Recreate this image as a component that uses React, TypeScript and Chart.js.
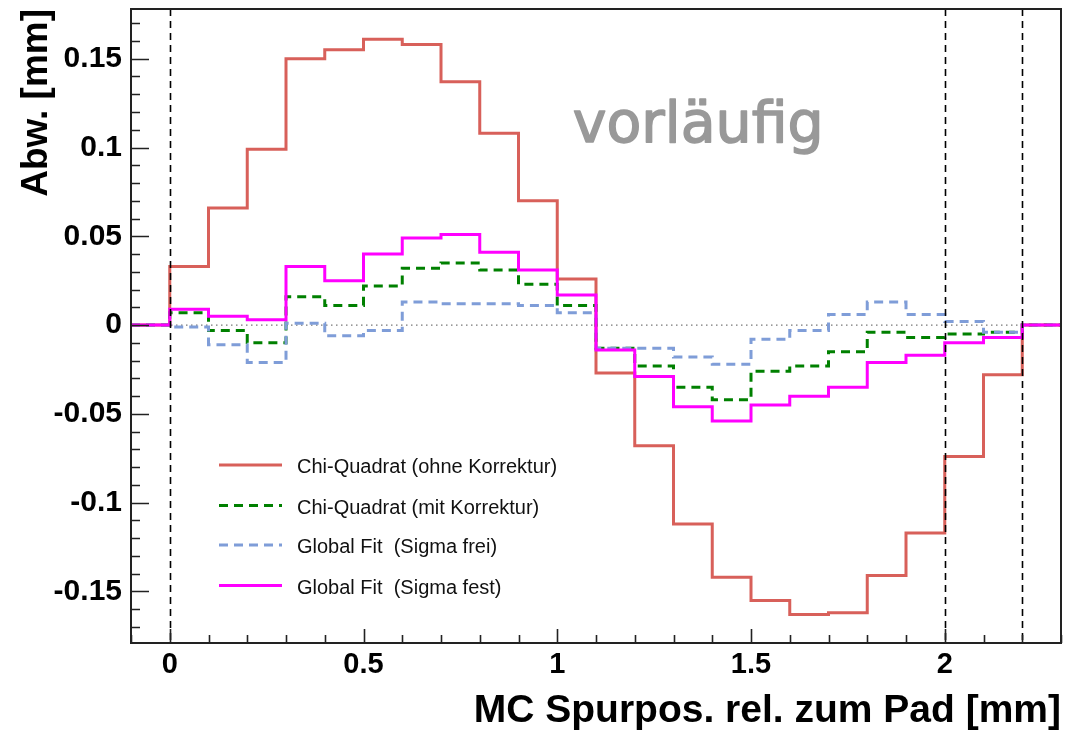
import React, { useEffect, useRef } from 'react';
import { Chart, registerables } from 'chart.js';

Chart.register(...registerables);

// ---- data ----
const binLow = [0, 0.1, 0.2, 0.3, 0.4, 0.5, 0.6, 0.7, 0.8, 0.9, 1.0, 1.1, 1.2, 1.3, 1.4, 1.5, 1.6, 1.7, 1.8, 1.9, 2.0, 2.1];
const binWidth = 0.1;
const chiOhne = [0.033, 0.066, 0.099, 0.150, 0.155, 0.161, 0.158, 0.137, 0.108, 0.070, 0.026, -0.027, -0.068, -0.112, -0.142, -0.155, -0.163, -0.162, -0.141, -0.117, -0.074, -0.028];
const chiMit = [0.007, -0.003, -0.010, 0.016, 0.011, 0.022, 0.032, 0.035, 0.031, 0.023, 0.011, -0.013, -0.023, -0.035, -0.042, -0.026, -0.023, -0.015, -0.004, -0.007, -0.005, -0.004];
const globalFrei = [-0.001, -0.011, -0.021, 0.001, -0.006, -0.003, 0.013, 0.012, 0.012, 0.011, 0.007, -0.013, -0.013, -0.018, -0.022, -0.008, -0.003, 0.006, 0.013, 0.006, 0.002, -0.004];
const globalFest = [0.009, 0.005, 0.003, 0.033, 0.025, 0.040, 0.049, 0.051, 0.041, 0.031, 0.017, -0.014, -0.029, -0.046, -0.054, -0.045, -0.040, -0.035, -0.021, -0.017, -0.010, -0.007];
const seriesLabels = [
  'Chi-Quadrat (ohne Korrektur)',
  'Chi-Quadrat (mit Korrektur)',
  'Global Fit  (Sigma frei)',
  'Global Fit  (Sigma fest)',
];
const markerLines = [0, 2, 2.2];
const xRange = [-0.1, 2.3];
const yRange = [-0.179, 0.178];
const xTickValues = [0, 0.5, 1, 1.5, 2];
const xTickLabels = ['0', '0.5', '1', '1.5', '2'];
const yTickValues = [-0.15, -0.1, -0.05, 0, 0.05, 0.1, 0.15];
const yTickLabels = ['-0.15', '-0.1', '-0.05', '0', '0.05', '0.1', '0.15'];
const xTitle = 'MC Spurpos. rel. zum Pad [mm]';
const yTitle = 'Abw. [mm]';
const watermark = 'vorläufig';

const FONT = "'Liberation Sans', Arial, Helvetica, sans-serif";

function histPoints(vals: number[]) {
  const pts = [{ x: xRange[0], y: 0 }];
  vals.forEach((v, i) => pts.push({ x: binLow[i], y: v }));
  pts.push({ x: binLow[binLow.length - 1] + binWidth, y: 0 });
  pts.push({ x: xRange[1], y: 0 });
  return pts;
}

const decorPlugin = {
  id: 'rootDecor',
  beforeDatasetsDraw(chart: any) {
    const { ctx, chartArea: a, scales } = chart;
    const y0 = scales.y.getPixelForValue(0);
    ctx.save();
    ctx.strokeStyle = '#777';
    ctx.lineWidth = 1.2;
    ctx.setLineDash([1.5, 3.5]);
    ctx.beginPath();
    ctx.moveTo(a.left, y0);
    ctx.lineTo(a.right, y0);
    ctx.stroke();
    ctx.restore();
  },
  afterDatasetsDraw(chart: any) {
    const { ctx, chartArea: a, scales } = chart;
    const xs = scales.x, ys = scales.y;
    ctx.save();
    // vertical dashed markers
    ctx.strokeStyle = '#000';
    ctx.lineWidth = 1.6;
    ctx.setLineDash([7, 5]);
    markerLines.forEach((m) => {
      const px = Math.round(xs.getPixelForValue(m)) + 0.5;
      ctx.beginPath();
      ctx.moveTo(px, a.top);
      ctx.lineTo(px, a.bottom);
      ctx.stroke();
    });
    ctx.setLineDash([]);

    // frame
    ctx.strokeStyle = '#222';
    ctx.lineWidth = 2;
    ctx.strokeRect(a.left, a.top, a.right - a.left, a.bottom - a.top);

    // ticks (inward)
    ctx.lineWidth = 1.6;
    ctx.beginPath();
    const yMinor = 0.01;
    for (let k = Math.ceil(ys.min / yMinor - 1e-6); k <= Math.floor(ys.max / yMinor + 1e-6); k++) {
      const v = k * yMinor;
      const major = Math.abs(v / 0.05 - Math.round(v / 0.05)) < 1e-6;
      const py = Math.round(ys.getPixelForValue(v)) + 0.5;
      ctx.moveTo(a.left, py);
      ctx.lineTo(a.left + (major ? 18 : 9), py);
    }
    const xMinor = 0.1;
    for (let k = Math.ceil(xs.min / xMinor - 1e-6); k <= Math.floor(xs.max / xMinor + 1e-6); k++) {
      const v = k * xMinor;
      const major = Math.abs(v / 0.5 - Math.round(v / 0.5)) < 1e-6;
      const px = Math.round(xs.getPixelForValue(v)) + 0.5;
      ctx.moveTo(px, a.bottom);
      ctx.lineTo(px, a.bottom - (major ? 14 : 8));
    }
    ctx.stroke();

    // legend
    const lx0 = a.left + 88, lx1 = a.left + 151, tx = a.left + 166;
    const rowY = [a.top + 456, a.top + 496.5, a.top + 536, a.top + 576.5];
    ctx.font = `20px ${FONT}`;
    ctx.textBaseline = 'alphabetic';
    ctx.textAlign = 'left';
    chart.data.datasets.forEach((ds: any, i: number) => {
      const yy = rowY[i];
      ctx.strokeStyle = ds.borderColor;
      ctx.lineWidth = ds.borderWidth;
      ctx.setLineDash(ds.borderDash || []);
      ctx.beginPath();
      ctx.moveTo(lx0, yy);
      ctx.lineTo(lx1, yy);
      ctx.stroke();
      ctx.setLineDash([]);
      ctx.fillStyle = '#111';
      ctx.fillText(ds.label, tx, yy + 8);
    });

    // watermark
    ctx.font = `57px 'DejaVu Sans', sans-serif`;
    ctx.fillStyle = '#999';
    ctx.strokeStyle = '#999';
    ctx.lineWidth = 1.5;
    ctx.lineJoin = 'round';
    const wx = xs.getPixelForValue(1.04), wy = ys.getPixelForValue(0.103);
    ctx.fillText(watermark, wx, wy);
    ctx.strokeText(watermark, wx, wy);
    ctx.restore();
  },
};

export default function App() {
  const ref = useRef<HTMLCanvasElement>(null);
  useEffect(() => {
    if (!ref.current) return;
    Chart.defaults.font.family = FONT;
    const mk = (label: string, vals: number[], color: string, dash: number[], order: number) => ({
      label,
      data: histPoints(vals),
      borderColor: color,
      backgroundColor: color,
      borderWidth: 3,
      borderDash: dash,
      stepped: 'before' as const,
      pointRadius: 0,
      fill: false,
      order,
    });
    const chart = new Chart(ref.current, {
      type: 'line',
      data: {
        datasets: [
          mk(seriesLabels[0], chiOhne, '#d8605a', [], 4),
          mk(seriesLabels[1], chiMit, '#008000', [9, 6], 3),
          mk(seriesLabels[2], globalFrei, '#7f9dd8', [9, 6], 2),
          mk(seriesLabels[3], globalFest, '#ff00ff', [], 1),
        ],
      },
      options: {
        animation: false,
        responsive: true,
        maintainAspectRatio: false,
        events: [],
        layout: { padding: { left: 0, top: 9, right: 12, bottom: 0 } },
        plugins: { legend: { display: false }, tooltip: { enabled: false } },
        scales: {
          x: {
            type: 'linear',
            min: xRange[0],
            max: xRange[1],
            grid: { display: false, drawTicks: false, tickLength: 0 },
            border: { display: false },
            afterBuildTicks: (s: any) => {
              s.ticks = xTickValues.map((v) => ({ value: v }));
            },
            ticks: {
              autoSkip: false,
              maxRotation: 0,
              color: '#000',
              padding: 5,
              font: { size: 29, weight: 'bold' },
              callback: (v: any) => xTickLabels[xTickValues.indexOf(v)],
            },
            title: {
              display: true,
              text: xTitle,
              align: 'end',
              color: '#000',
              font: { size: 39, weight: 'bold', lineHeight: 1 },
              padding: { top: 0, bottom: 0 },
            },
            afterFit: (s: any) => {
              s.height = 88;
              s.paddingLeft = 0;
              s.paddingRight = 0;
            },
          },
          y: {
            type: 'linear',
            min: yRange[0],
            max: yRange[1],
            grid: { display: false, drawTicks: false, tickLength: 0 },
            border: { display: false },
            afterBuildTicks: (s: any) => {
              s.ticks = yTickValues.map((v) => ({ value: v }));
            },
            ticks: {
              autoSkip: false,
              color: '#000',
              padding: 9,
              font: { size: 30, weight: 'bold' },
              callback: (v: any) => yTickLabels[yTickValues.indexOf(v)],
            },
            title: {
              display: true,
              text: yTitle,
              align: 'end',
              color: '#000',
              font: { size: 37, weight: 'bold', lineHeight: 1 },
              padding: { top: 18.5, bottom: 0 },
            },
            afterFit: (s: any) => {
              s.width = 131;
              s.paddingTop = 0;
              s.paddingBottom = 0;
            },
          },
        },
      },
      plugins: [decorPlugin],
    } as any);
    return () => chart.destroy();
  }, []);
  return (
    <div style={{ position: 'fixed', left: 0, top: 0, width: 1073, height: 731, background: '#fff' }}>
      <canvas ref={ref} />
    </div>
  );
}
